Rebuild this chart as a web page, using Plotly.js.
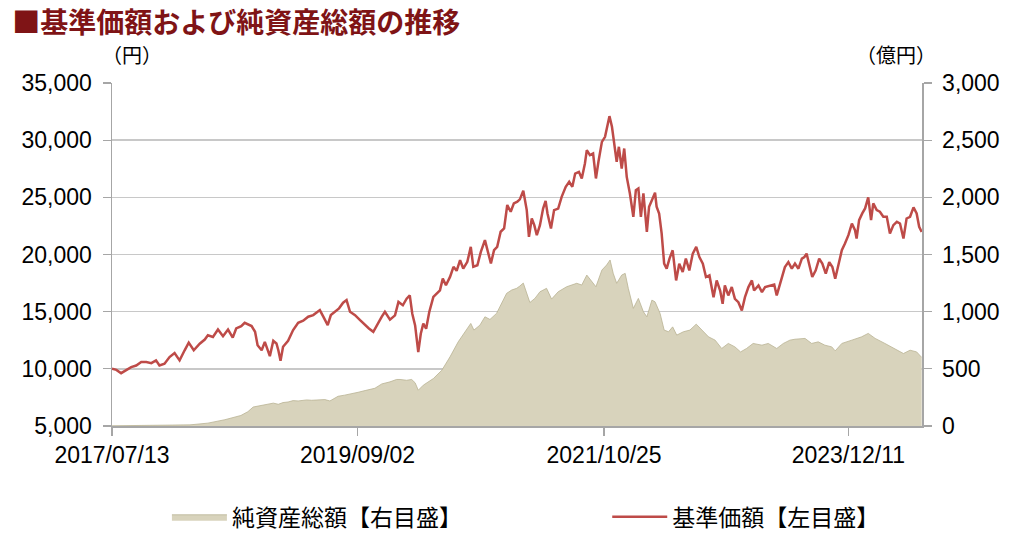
<!DOCTYPE html>
<html>
<head>
<meta charset="utf-8">
<script src="https://cdn.plot.ly/plotly-3.0.1.min.js"></script>
<style>html,body{margin:0;padding:0;background:#fff;}#chart{width:1024px;height:551px;}</style>
</head>
<body>
<div id="chart"></div>
<script>
// 基準価額（円）
var priceDates = ["2017-07-13","2017-07-27","2017-08-11","2017-08-27","2017-09-12","2017-09-28","2017-10-14","2017-10-30","2017-11-15","2017-11-30","2017-12-11","2017-12-27","2018-01-12","2018-01-28","2018-02-13","2018-03-01","2018-03-14","2018-03-30","2018-04-18","2018-05-04","2018-05-14","2018-05-30","2018-06-15","2018-07-01","2018-07-17","2018-08-01","2018-08-12","2018-08-28","2018-09-08","2018-09-30","2018-10-11","2018-10-19","2018-11-01","2018-11-11","2018-11-27","2018-12-08","2018-12-18","2018-12-24","2018-12-31","2019-01-08","2019-01-24","2019-02-09","2019-02-25","2019-03-13","2019-03-29","2019-04-14","2019-04-25","2019-05-05","2019-05-16","2019-05-30","2019-06-09","2019-06-22","2019-07-05","2019-07-18","2019-07-29","2019-08-09","2019-08-25","2019-09-10","2019-09-26","2019-10-08","2019-10-22","2019-11-02","2019-11-18","2019-11-28","2019-12-14","2019-12-30","2020-01-10","2020-01-24","2020-02-05","2020-02-15","2020-02-23","2020-03-03","2020-03-13","2020-03-21","2020-03-29","2020-04-07","2020-04-17","2020-04-30","2020-05-11","2020-05-21","2020-05-30","2020-06-09","2020-06-22","2020-07-03","2020-07-13","2020-07-24","2020-08-03","2020-08-16","2020-08-27","2020-09-04","2020-09-17","2020-09-28","2020-10-11","2020-10-22","2020-10-30","2020-11-09","2020-11-19","2020-11-30","2020-12-11","2020-12-21","2021-01-01","2021-01-11","2021-01-22","2021-01-30","2021-02-10","2021-02-21","2021-02-28","2021-03-09","2021-03-17","2021-03-25","2021-04-04","2021-04-14","2021-04-22","2021-04-28","2021-05-09","2021-05-19","2021-06-01","2021-06-12","2021-06-25","2021-07-06","2021-07-16","2021-07-25","2021-08-06","2021-08-15","2021-08-25","2021-08-31","2021-09-10","2021-09-20","2021-09-29","2021-10-07","2021-10-18","2021-10-28","2021-11-06","2021-11-11","2021-11-19","2021-11-27","2021-12-04","2021-12-11","2021-12-20","2021-12-28","2022-01-05","2022-01-15","2022-01-26","2022-02-03","2022-02-11","2022-02-19","2022-02-27","2022-03-10","2022-03-17","2022-03-26","2022-04-05","2022-04-10","2022-04-18","2022-04-26","2022-05-04","2022-05-12","2022-05-21","2022-05-31","2022-06-11","2022-06-21","2022-07-02","2022-07-12","2022-07-23","2022-08-03","2022-08-14","2022-08-24","2022-09-04","2022-09-14","2022-09-25","2022-10-08","2022-10-18","2022-10-29","2022-11-06","2022-11-13","2022-11-24","2022-12-05","2022-12-15","2022-12-26","2023-01-06","2023-01-16","2023-01-27","2023-02-07","2023-02-14","2023-02-28","2023-03-11","2023-03-21","2023-04-06","2023-04-19","2023-04-27","2023-05-10","2023-05-23","2023-06-03","2023-06-14","2023-06-24","2023-07-05","2023-07-16","2023-07-24","2023-07-31","2023-08-08","2023-08-18","2023-08-29","2023-09-09","2023-09-19","2023-09-30","2023-10-11","2023-10-21","2023-10-30","2023-11-09","2023-11-20","2023-11-30","2023-12-11","2023-12-22","2024-01-01","2024-01-06","2024-01-14","2024-01-24","2024-02-02","2024-02-12","2024-02-21","2024-02-28","2024-03-10","2024-03-20","2024-03-31","2024-04-11","2024-04-21","2024-05-02","2024-05-13","2024-05-23","2024-06-03","2024-06-13","2024-06-24","2024-07-05","2024-07-15","2024-07-23","2024-07-31"];
var priceValues = [10000,9910,9620,9850,10150,10290,10590,10590,10500,10740,10290,10440,11030,11380,10740,11620,12290,11620,12200,12560,12940,12790,13440,12850,13440,12730,13530,13730,14030,13740,13240,12070,11630,12360,11110,12450,12220,11630,10700,11930,12450,13390,14030,14210,14560,14700,14900,15140,14560,13820,14700,14990,15290,15780,16010,14990,14700,14260,13820,13530,13240,13820,14560,14990,14300,14680,15850,15560,16140,16430,14820,13800,11460,13070,13950,13510,14970,16290,16580,16870,17890,17310,18040,18920,18570,19500,18770,19360,20670,18920,19060,20230,21260,20150,19210,20380,20670,21990,22280,24330,23740,24470,24620,24820,25570,23880,21550,23150,22570,21690,22570,24020,24690,23590,22270,23880,24020,25040,25920,26360,25920,27080,27230,26650,27960,29130,28690,28830,26650,28110,29850,30290,31460,32100,31170,29710,28110,29420,27520,29270,26790,25340,23300,25630,25770,23300,25340,21980,24170,24750,25400,24180,23590,21840,19200,18760,19640,20370,17730,19200,18470,19640,18610,20080,20660,19780,19200,18030,18170,16270,17730,16850,15680,17290,16420,17150,16120,15830,15100,16270,17150,17730,16850,17290,16710,17150,17290,17380,16420,17730,18900,19340,18760,19200,18760,19640,19780,20080,19200,18030,18610,19640,19200,18320,19340,18900,17880,19200,20370,20960,21690,22710,22130,21400,23010,23590,24030,25000,23010,24470,23880,23740,23300,23300,21840,22570,22860,22710,21400,23150,23300,24120,23590,22420,21980];

// 純資産総額（億円）
var navDates = ["2017-07-13","2017-11-11","2018-01-29","2018-03-18","2018-05-14","2018-07-07","2018-08-27","2018-09-18","2018-10-05","2018-11-03","2018-11-22","2018-12-08","2018-12-24","2019-01-08","2019-01-24","2019-02-09","2019-02-25","2019-03-24","2019-04-09","2019-05-05","2019-05-21","2019-06-06","2019-07-02","2019-07-23","2019-08-14","2019-09-04","2019-09-26","2019-10-11","2019-10-27","2019-11-18","2019-12-04","2019-12-14","2020-01-04","2020-01-15","2020-02-05","2020-02-21","2020-03-03","2020-03-13","2020-03-29","2020-04-30","2020-05-27","2020-06-22","2020-07-18","2020-08-08","2020-08-27","2020-09-06","2020-09-25","2020-10-11","2020-10-27","2020-11-17","2020-12-03","2020-12-19","2021-01-04","2021-01-20","2021-01-30","2021-02-10","2021-03-03","2021-03-19","2021-04-04","2021-04-14","2021-04-25","2021-05-11","2021-06-01","2021-06-28","2021-07-30","2021-08-15","2021-08-31","2021-09-29","2021-10-18","2021-11-02","2021-11-13","2021-11-23","2021-12-04","2021-12-20","2021-12-31","2022-01-10","2022-01-26","2022-02-11","2022-02-27","2022-03-10","2022-03-26","2022-04-05","2022-04-21","2022-05-04","2022-05-18","2022-05-31","2022-06-13","2022-07-04","2022-07-25","2022-08-14","2022-09-01","2022-09-22","2022-10-13","2022-11-03","2022-11-24","2022-12-15","2023-01-02","2023-01-21","2023-02-11","2023-03-11","2023-03-31","2023-04-27","2023-05-18","2023-06-08","2023-06-24","2023-07-26","2023-08-16","2023-09-06","2023-09-27","2023-10-19","2023-10-30","2023-11-20","2023-12-22","2024-01-22","2024-02-12","2024-03-05","2024-04-05","2024-05-07","2024-06-03","2024-06-24","2024-07-15","2024-07-31"];
var navValues = [2,3,5,10,25,55,92,125,166,180,190,200,190,205,210,222,219,228,225,231,231,219,260,270,280,295,310,320,330,368,377,386,407,407,400,407,378,313,357,415,488,605,736,824,897,839,882,955,932,985,1072,1160,1189,1204,1224,1250,1080,1116,1174,1189,1204,1110,1174,1218,1248,1233,1320,1218,1364,1408,1452,1335,1248,1320,1335,1204,1029,1116,999,955,1101,1086,985,839,824,867,795,824,839,891,839,780,751,678,722,692,648,678,722,707,722,678,722,751,759,766,722,736,707,692,657,722,751,780,810,766,722,678,634,663,648,600];

var tickDates = ["2017-07-13","2019-09-02","2021-10-25","2023-12-11"];
var tickLabels = ["2017/07/13","2019/09/02","2021/10/25","2023/12/11"];
var seriesNames = ["純資産総額【右目盛】","基準価額【左目盛】"];

var tickFont = {family: "Liberation Sans, Arial, sans-serif", size: 23, color: "#000"};
var jpFont = "Noto Sans CJK JP, sans-serif";

var traces = [
  {
    x: navDates, y: navValues, name: seriesNames[0], type: "scatter", mode: "lines",
    fill: "tozeroy", fillcolor: "#D8D3BC",
    line: {color: "#B9B393", width: 0.8},
    yaxis: "y", legend: "legend", hoverinfo: "skip"
  },
  {
    x: priceDates, y: priceValues, name: seriesNames[1], type: "scatter", mode: "lines",
    line: {color: "#BE4B48", width: 2.5},
    yaxis: "y2", legend: "legend2", hoverinfo: "skip"
  }
];

var legendCommon = {
  orientation: "h", xref: "container", yref: "container",
  xanchor: "left", y: 0.062, yanchor: "middle",
  font: {family: jpFont, size: 23, color: "#000"},
  itemwidth: 55
};

var layout = {
  width: 1024, height: 551,
  paper_bgcolor: "#fff", plot_bgcolor: "#fff",
  margin: {l: 112, r: 102, t: 83, b: 125},
  showlegend: true,
  title: {
    text: "■基準価額および純資産総額の推移",
    font: {family: jpFont, size: 28, color: "#7F1416", weight: "bold"},
    x: 0.012, xanchor: "left", xref: "container",
    y: 0.958, yanchor: "middle", yref: "container"
  },
  xaxis: {
    type: "date",
    range: ["2017-07-13", "2024-08-01"],
    tickmode: "array", tickvals: tickDates, ticktext: tickLabels,
    ticks: "outside", ticklen: 8, tickcolor: "#A6A6A6", tickwidth: 1.2,
    showline: true, linecolor: "#A6A6A6", linewidth: 1.5,
    showgrid: false, zeroline: false,
    tickfont: tickFont
  },
  yaxis: {
    side: "right",
    range: [0, 3000], dtick: 500, tick0: 0, tickformat: ",d",
    ticks: "outside", ticklen: 8, tickcolor: "#A6A6A6", tickwidth: 1.2,
    showline: true, linecolor: "#A6A6A6", linewidth: 1.5,
    showgrid: true, gridcolor: "#C8C8C8", gridwidth: 1.5,
    zeroline: false, tickfont: tickFont, ticklabelstandoff: 6
  },
  yaxis2: {
    overlaying: "y", side: "left",
    range: [5000, 35000], dtick: 5000, tick0: 5000, tickformat: ",d",
    ticks: "outside", ticklen: 8, tickcolor: "#A6A6A6", tickwidth: 1.2,
    showline: true, linecolor: "#A6A6A6", linewidth: 1.5,
    showgrid: false, zeroline: false, tickfont: tickFont, ticklabelstandoff: 6
  },
  legend: Object.assign({}, legendCommon, {x: 0.163}),
  legend2: Object.assign({}, legendCommon, {x: 0.593}),
  annotations: [
    {text: "（円）", xref: "paper", yref: "paper", x: 0.025, y: 1.083, xanchor: "center", yanchor: "middle", showarrow: false, font: {family: jpFont, size: 20, color: "#000"}},
    {text: "（億円）", xref: "paper", yref: "paper", x: 0.968, y: 1.083, xanchor: "center", yanchor: "middle", showarrow: false, font: {family: jpFont, size: 20, color: "#000"}}
  ]
};

Plotly.newPlot("chart", traces, layout, {displayModeBar: false, staticPlot: true});
</script>
</body>
</html>
